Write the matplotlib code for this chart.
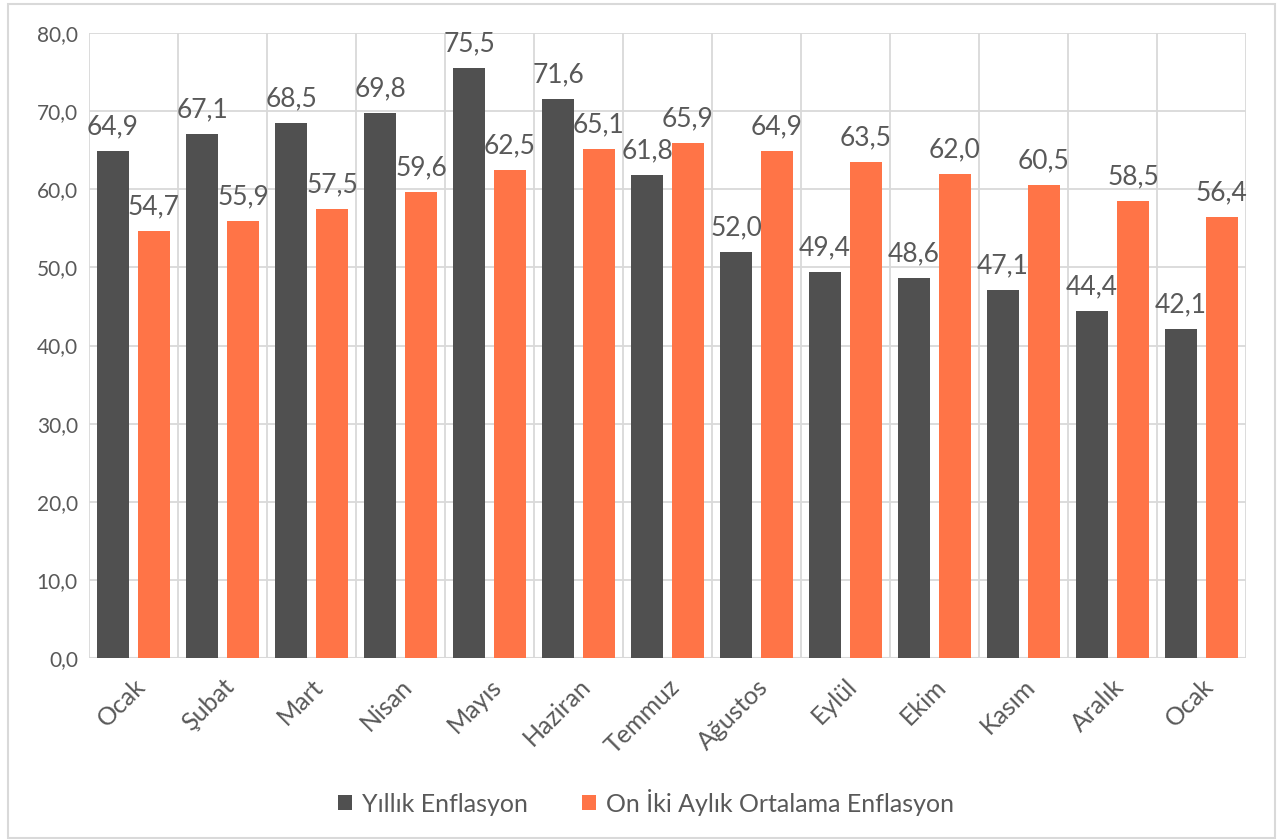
import matplotlib.pyplot as plt
import matplotlib.patches as mpatches
import numpy as np

plt.rcParams['font.family'] = ['Lato', 'DejaVu Sans']

months = ["Ocak", "Şubat", "Mart", "Nisan", "Mayıs", "Haziran", "Temmuz",
          "Ağustos", "Eylül", "Ekim", "Kasım", "Aralık", "Ocak"]
yillik = [64.9, 67.1, 68.5, 69.8, 75.5, 71.6, 61.8, 52.0, 49.4, 48.6, 47.1, 44.4, 42.1]
ortalama = [54.7, 55.9, 57.5, 59.6, 62.5, 65.1, 65.9, 64.9, 63.5, 62.0, 60.5, 58.5, 56.4]

dark = "#505050"
orange = "#FF7447"
txt = "#595959"
grid = "#D9D9D9"

fig = plt.figure(figsize=(12.8, 8.4), dpi=100)
ax = fig.add_axes([89/1280, 1-658/840, (1246-89)/1280, (658-33)/840])

x = np.arange(len(months))
w = 0.36
off = 0.23
b1 = ax.bar(x - off, yillik, w, color=dark, label="Yıllık Enflasyon", zorder=3)
b2 = ax.bar(x + off, ortalama, w, color=orange, label="On İki Aylık Ortalama Enflasyon", zorder=3)

for bars in (b1, b2):
    for r in bars:
        h = r.get_height()
        ax.text(r.get_x() + r.get_width()/2, h + 1.5, f"{h:.1f}".replace(".", ","),
                ha="center", va="bottom", fontsize=19, color=txt)

ax.set_xlim(-0.5, len(months) - 0.5)
ax.set_ylim(0, 80)
ax.set_yticks(np.arange(0, 81, 10))
ax.set_yticklabels([f"{v:.1f}".replace(".", ",") for v in np.arange(0, 81, 10)])
ax.set_xticks(x)
ax.set_xticklabels(months, rotation=45, ha="right", rotation_mode="anchor")
ax.set_xticks(np.arange(-0.5, len(months), 1), minor=True)
ax.grid(which="minor", axis="x", color=grid, lw=1.3, zorder=0)
ax.grid(which="major", axis="y", color=grid, lw=1.3, zorder=0)
ax.tick_params(which="both", length=0)
ax.tick_params(axis="y", labelsize=15, colors=txt, pad=8)
ax.tick_params(axis="x", labelsize=18, colors=txt, pad=12)
for s in ax.spines.values():
    s.set_visible(False)
ax.axhline(0, color=grid, lw=1.5, zorder=2)

ax.legend(loc="center", bbox_to_anchor=(646/1280, 1-802/840), bbox_transform=fig.transFigure,
          ncol=2, frameon=False, fontsize=18, labelcolor=txt, handlelength=0.55,
          handleheight=0.55, columnspacing=2.2, handletextpad=0.4)

fig.patches.append(mpatches.Rectangle((8/1280, 0.002), (1275-8)/1280, 1-4/840-0.002,
                                      transform=fig.transFigure, fill=False,
                                      edgecolor=grid, lw=1.5))

fig.savefig("out.png", dpi=100)
